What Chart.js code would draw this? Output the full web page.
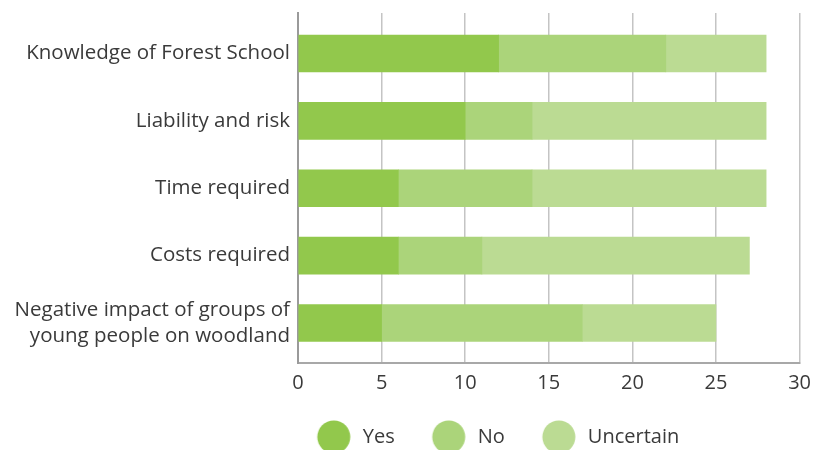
<!DOCTYPE html>
<html>
<head>
<meta charset="utf-8">
<script src="https://cdn.jsdelivr.net/npm/chart.js@4/dist/chart.umd.min.js"></script>
<style>
  html, body { margin: 0; padding: 0; background: #ffffff; }
  #wrap { width: 819px; height: 450px; }
</style>
</head>
<body>
<div id="wrap"><canvas id="c" width="819" height="450"></canvas></div>
<script>
// Barriers to running Forest School sessions: responses per issue
const categories = [
  'Knowledge of Forest School',
  'Liability and risk',
  'Time required',
  'Costs required',
  ['Negative impact of groups of', 'young people on woodland']
];
const yesValues = [12, 10, 6, 6, 5];
const noValues = [10, 4, 8, 5, 12];
const uncertainValues = [6, 14, 14, 16, 8];
const seriesNames = ['Yes', 'No', 'Uncertain'];
const xTicks = [0, 5, 10, 15, 20, 25, 30];

const colors = ['#92c84c', '#abd47a', '#bbdb93'];
const FONT = '"Open Sans", "Liberation Sans", sans-serif';
const TEXT = '#3a3a3a';

// legend marker: a round dot at the right end of a wide box,
// the empty left part spaces the items apart
const MARK_W = 63;
function dot(color) {
  const cv = document.createElement('canvas');
  cv.width = MARK_W; cv.height = 34;
  const g = cv.getContext('2d');
  g.fillStyle = color;
  g.beginPath();
  g.arc(MARK_W - 19, 17, 16.5, 0, Math.PI * 2);
  g.fill();
  return cv;
}
const dots = colors.map(dot);

// nudges the legend row into place after layout
const legendShift = {
  id: 'legendShift',
  afterLayout(chart) {
    const lg = chart.legend;
    if (!lg) return;
    lg.left += 82; lg.right += 82;
    lg.top += 7; lg.bottom += 7;
  }
};

new Chart(document.getElementById('c'), {
  type: 'bar',
  data: {
    labels: categories,
    datasets: [
      { label: seriesNames[0], data: yesValues, backgroundColor: colors[0] },
      { label: seriesNames[1], data: noValues, backgroundColor: colors[1] },
      { label: seriesNames[2], data: uncertainValues, backgroundColor: colors[2] }
    ]
  },
  options: {
    indexAxis: 'y',
    responsive: false,
    animation: false,
    datasets: { bar: { barThickness: 37, borderWidth: 0 } },
    layout: { padding: { top: 13, right: 14, left: 0, bottom: 0 } },
    scales: {
      x: {
        stacked: true,
        min: 0,
        max: 30,
        afterBuildTicks(scale) { scale.ticks = xTicks.map(v => ({ value: v })); },
        afterFit(scale) {
          const lh = scale.chart.legend ? scale.chart.legend.height : 0;
          scale.height = Math.max(450 - 363 - lh, 30);
        },
        grid: { color: '#c4c4c4', lineWidth: 1.5, drawTicks: false },
        border: { display: true, color: '#a8a8a8', width: 2 },
        ticks: { color: TEXT, padding: 8, font: { family: FONT, size: 20 } }
      },
      y: {
        stacked: true,
        afterFit(scale) {
          scale.width = 298;
          scale.paddingTop = 0;
          scale.paddingBottom = 0;
        },
        afterBuildTicks(scale) {
          scale._startValue = -0.601;
          scale._valueRange = 5.195;
        },
        grid: { display: false, drawTicks: false },
        border: { display: true, color: '#9a9a9a', width: 2 },
        ticks: { color: TEXT, padding: 8, font: { family: FONT, size: 20.5, lineHeight: 1.27 } }
      }
    },
    plugins: {
      tooltip: { enabled: false },
      legend: {
        position: 'bottom',
        labels: {
          usePointStyle: true,
          pointStyleWidth: MARK_W,
          padding: 10,
          color: TEXT,
          font: { family: FONT, size: 20, lineHeight: 1 },
          generateLabels(chart) {
            const items = Chart.defaults.plugins.legend.labels.generateLabels(chart);
            items.forEach((it, i) => { it.pointStyle = dots[i]; });
            return items;
          }
        }
      }
    }
  },
  plugins: [legendShift]
});
</script>
</body>
</html>
